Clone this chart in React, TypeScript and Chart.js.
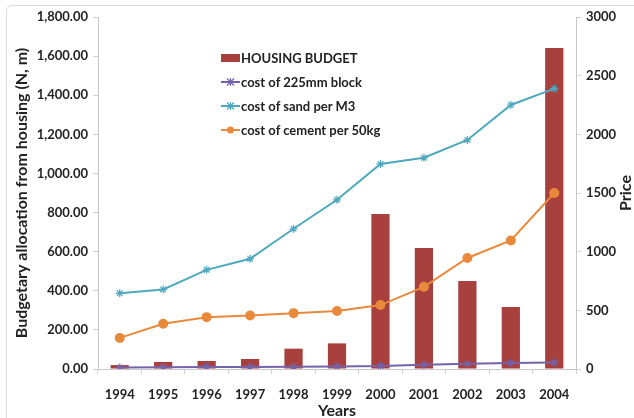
import React, { useEffect, useRef } from "react";
import { Chart, registerables } from "chart.js";

Chart.register(...registerables);

const years = ["1994", "1995", "1996", "1997", "1998", "1999", "2000", "2001", "2002", "2003", "2004"];
const housingBudget = [20, 36, 41, 51, 104, 131, 792, 619, 450, 317, 1641];
const blockCost = [12, 14, 16, 18, 20, 22, 25, 37, 44, 51, 56];
const sandCost = [645, 678, 845, 940, 1195, 1442, 1748, 1800, 1952, 2250, 2390];
const cementCost = [265, 385, 442, 456, 476, 494, 545, 700, 946, 1095, 1500];

const FONT = "Lato, 'Open Sans', sans-serif";
const BAR = "#A8403E";
const PURPLE = "#7563A9";
const TEAL = "#4EA8BE";
const ORANGE = "#E9893B";

const legendItems = [
  { label: "HOUSING BUDGET", type: "bar", color: BAR },
  { label: "cost of 225mm block", type: "star", color: PURPLE },
  { label: "cost of sand per M3", type: "star", color: TEAL },
  { label: "cost of cement per 50kg", type: "circle", color: ORANGE },
];

function Swatch({ type, color }: { type: string; color: string }) {
  if (type === "bar") {
    return (
      <svg width="19" height="10">
        <rect x="0" y="1" width="19" height="8" fill={color} />
      </svg>
    );
  }
  return (
    <svg width="19" height="10">
      <line x1="0" y1="5" x2="19" y2="5" stroke={color} strokeWidth="2" />
      {type === "circle" ? (
        <circle cx="9.5" cy="5" r="3.5" fill={color} />
      ) : (
        <g stroke={color} strokeWidth="1.2">
          <line x1="6" y1="1.5" x2="13" y2="8.5" />
          <line x1="13" y1="1.5" x2="6" y2="8.5" />
          <line x1="9.5" y1="1" x2="9.5" y2="9" />
        </g>
      )}
    </svg>
  );
}

const rightTitlePlugin = {
  id: "rightTitle",
  afterDraw(chart: any) {
    const { ctx, chartArea } = chart;
    ctx.save();
    ctx.translate(626, (chartArea.top + chartArea.bottom) / 2);
    ctx.rotate(-Math.PI / 2);
    ctx.font = `bold 16px ${FONT}`;
    ctx.fillStyle = "#222";
    ctx.textAlign = "center";
    ctx.textBaseline = "middle";
    ctx.fillText("Price", 0, 0);
    ctx.restore();
  },
};

export default function App() {
  const canvasRef = useRef<HTMLCanvasElement | null>(null);

  useEffect(() => {
    document.body.style.margin = "0";
    const ctx = canvasRef.current!.getContext("2d")!;
    const tickFont = { family: FONT, size: 13, weight: "bold" as const };
    const titleFont = { family: FONT, size: 16, weight: "bold" as const };
    const chart = new Chart(ctx, {
      type: "bar",
      data: {
        labels: years,
        datasets: [
          {
            type: "bar",
            label: "HOUSING BUDGET",
            data: housingBudget,
            backgroundColor: BAR,
            yAxisID: "y",
            order: 10,
            barPercentage: 0.42,
            categoryPercentage: 1,
          },
          {
            type: "line",
            label: "cost of 225mm block",
            data: blockCost,
            borderColor: PURPLE,
            backgroundColor: PURPLE,
            borderWidth: 2,
            pointStyle: "star",
            pointRadius: 4,
            pointBorderWidth: 1.2,
            yAxisID: "y1",
            order: 1,
          },
          {
            type: "line",
            label: "cost of sand per M3",
            data: sandCost,
            borderColor: TEAL,
            backgroundColor: TEAL,
            borderWidth: 2,
            pointStyle: "star",
            pointRadius: 4,
            pointBorderWidth: 1.2,
            yAxisID: "y1",
            order: 1,
          },
          {
            type: "line",
            label: "cost of cement per 50kg",
            data: cementCost,
            borderColor: ORANGE,
            backgroundColor: ORANGE,
            borderWidth: 2,
            pointStyle: "circle",
            pointRadius: 4,
            yAxisID: "y1",
            order: 1,
          },
        ] as any,
      },
      options: {
        animation: false,
        responsive: false,
        maintainAspectRatio: false,
        layout: { padding: { top: 17, left: 12, right: 0, bottom: 0 } },
        plugins: { legend: { display: false }, tooltip: { enabled: false } },
        scales: {
          x: {
            offset: true,
            grid: { drawOnChartArea: false, drawTicks: true, tickLength: 5, color: "#d0d0d0", offset: true },
            border: { color: "#c8c8c8" },
            ticks: { color: "#222", font: tickFont, padding: 13, maxRotation: 0 },
            title: { display: true, text: "Years", color: "#222", font: titleFont, padding: { top: 0, bottom: -2 } },
            afterFit: (s: any) => { s.height = 49; },
          },
          y: {
            position: "left",
            min: 0,
            max: 1800,
            ticks: {
              stepSize: 200,
              color: "#222",
              font: tickFont,
              padding: 5,
              callback: (v: any) =>
                Number(v).toLocaleString("en-US", { minimumFractionDigits: 2, maximumFractionDigits: 2 }),
            },
            grid: { drawOnChartArea: false, drawTicks: true, tickLength: 5, color: "#d0d0d0" },
            border: { color: "#c8c8c8" },
            title: { display: true, text: "Budgetary allocation from housing (N, m)", color: "#222", font: titleFont, padding: { top: 0, bottom: 4 } },
            afterFit: (s: any) => { s.width = 86; },
          },
          y1: {
            position: "right",
            min: 0,
            max: 3000,
            ticks: { stepSize: 500, color: "#222", font: tickFont, padding: 5, callback: (v: any) => String(v) },
            grid: { drawOnChartArea: false, drawTicks: true, tickLength: 5, color: "#d0d0d0" },
            border: { color: "#c8c8c8" },
            afterFit: (s: any) => { s.width = 58; },
          },
        },
      },
      plugins: [rightTitlePlugin],
    });
    return () => chart.destroy();
  }, []);

  return (
    <div style={{ position: "relative", width: 634, height: 418, background: "#fff", overflow: "hidden" }}>
      <div
        style={{
          position: "absolute",
          left: 6,
          top: 5,
          width: 640,
          height: 430,
          border: "1px solid #d9d9d9",
          borderRadius: 6,
          boxSizing: "border-box",
        }}
      />
      <canvas ref={canvasRef} width={634} height={418} style={{ position: "absolute", left: 0, top: 0 }} />
      <div style={{ position: "absolute", left: 221, top: 46 }}>
        {legendItems.map((it) => (
          <div
            key={it.label}
            style={{
              display: "flex",
              alignItems: "center",
              height: 24,
              fontFamily: FONT,
              fontWeight: "bold",
              fontSize: 13,
              color: "#222",
              whiteSpace: "nowrap",
            }}
          >
            <Swatch type={it.type} color={it.color} />
            <span style={{ marginLeft: 1 }}>{it.label}</span>
          </div>
        ))}
      </div>
    </div>
  );
}
